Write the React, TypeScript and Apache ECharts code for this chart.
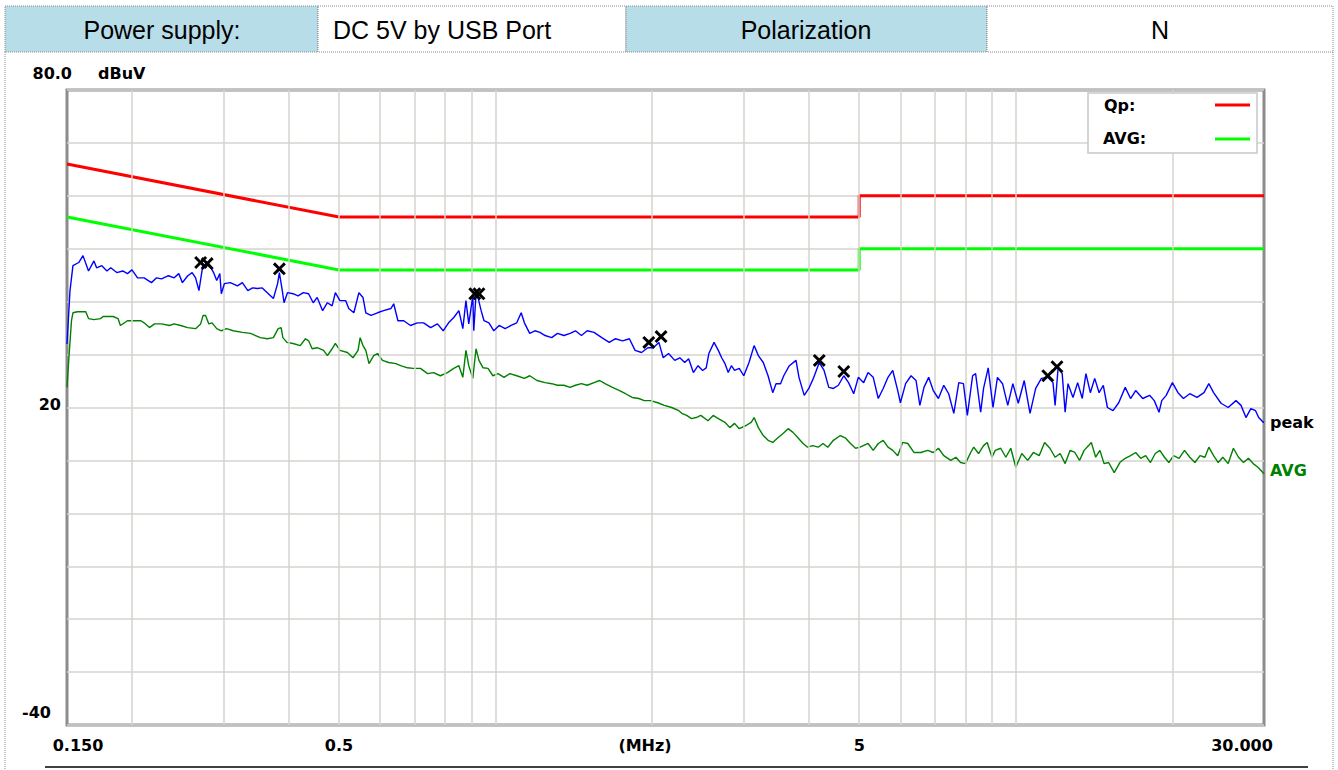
import React, { useEffect, useRef } from "react";
import * as echarts from "echarts";

const headerCells = ["Power supply:", "DC 5V by USB Port", "Polarization", "N"];

const qpLimit: [number, number][] = [[0.15, 66], [0.5, 56], [5, 56], [5, 60], [30, 60]];
const avgLimit: [number, number][] = [[0.15, 56], [0.5, 46], [5, 46], [5, 50], [30, 50]];

const peakTrace: [number, number][] = [
  [0.150, 32.0], [0.152, 42.1], [0.154, 46.8], [0.158, 47.4], [0.161, 48.7], [0.165, 45.8], [0.169, 47.7], [0.171, 46.4],
  [0.175, 46.8], [0.179, 45.8], [0.182, 46.4], [0.187, 45.5], [0.192, 45.8], [0.196, 45.3], [0.200, 46.0], [0.205, 44.5],
  [0.211, 44.5], [0.218, 43.6], [0.223, 44.5], [0.228, 44.3], [0.235, 44.9], [0.241, 44.5], [0.246, 45.3], [0.250, 43.6],
  [0.256, 44.9], [0.261, 45.5], [0.265, 44.5], [0.269, 42.1], [0.274, 47.2], [0.277, 46.4], [0.281, 47.2], [0.287, 45.5],
  [0.291, 44.0], [0.295, 45.3], [0.297, 41.5], [0.301, 43.4], [0.309, 43.6], [0.319, 43.0], [0.326, 43.6], [0.334, 42.1],
  [0.341, 42.6], [0.348, 42.5], [0.356, 42.6], [0.364, 41.7], [0.374, 40.6], [0.381, 43.4], [0.384, 45.5], [0.389, 42.1],
  [0.392, 39.8], [0.398, 41.7], [0.408, 41.5], [0.417, 41.1], [0.427, 41.7], [0.437, 41.5], [0.446, 39.8], [0.454, 40.8],
  [0.465, 38.3], [0.475, 39.8], [0.485, 39.2], [0.492, 41.7], [0.502, 40.2], [0.515, 40.2], [0.522, 38.7], [0.534, 37.9],
  [0.546, 41.7], [0.556, 40.8], [0.563, 37.9], [0.576, 37.4], [0.593, 37.9], [0.609, 38.3], [0.629, 38.7], [0.637, 39.6],
  [0.649, 36.4], [0.666, 36.4], [0.686, 35.5], [0.707, 36.0], [0.727, 36.0], [0.750, 35.1], [0.773, 35.8], [0.793, 34.5],
  [0.812, 36.0], [0.831, 37.0], [0.850, 38.3], [0.865, 34.9], [0.877, 40.2], [0.888, 35.8], [0.904, 41.1], [0.908, 34.5],
  [0.917, 41.5], [0.925, 40.8], [0.938, 38.3], [0.950, 36.4], [0.971, 36.0], [0.992, 34.5], [1.016, 35.5], [1.043, 34.9],
  [1.071, 35.5], [1.098, 36.0], [1.120, 37.9], [1.136, 36.0], [1.163, 34.0], [1.190, 34.5], [1.217, 34.2], [1.245, 33.6],
  [1.282, 33.2], [1.315, 34.0], [1.353, 33.6], [1.391, 34.0], [1.424, 34.5], [1.462, 33.6], [1.500, 34.5], [1.546, 34.2],
  [1.600, 33.2], [1.654, 32.3], [1.700, 33.0], [1.754, 32.6], [1.808, 33.0], [1.854, 30.8], [1.908, 30.4], [1.962, 31.3],
  [2.01, 31.3], [2.06, 32.3], [2.10, 29.4], [2.15, 30.2], [2.21, 28.9], [2.26, 29.4], [2.31, 28.5], [2.35, 29.2],
  [2.40, 26.6], [2.45, 27.9], [2.50, 27.0], [2.54, 27.5], [2.57, 30.2], [2.63, 32.3], [2.68, 30.8], [2.72, 29.4],
  [2.76, 28.3], [2.80, 26.6], [2.84, 27.9], [2.88, 27.0], [2.94, 27.4], [3.00, 26.0], [3.07, 28.5], [3.14, 31.7],
  [3.20, 29.8], [3.27, 28.5], [3.34, 26.0], [3.41, 22.8], [3.46, 24.5], [3.53, 24.5], [3.58, 26.0], [3.67, 27.9],
  [3.78, 28.9], [3.83, 25.7], [3.92, 22.3], [4.00, 23.6], [4.09, 25.7], [4.19, 28.5], [4.28, 27.0], [4.37, 23.8],
  [4.46, 23.6], [4.56, 24.2], [4.67, 26.0], [4.77, 24.7], [4.88, 22.6], [4.98, 25.7], [5.10, 24.7], [5.20, 26.6],
  [5.32, 25.7], [5.44, 21.7], [5.56, 23.6], [5.68, 25.7], [5.80, 27.0], [5.93, 23.2], [6.00, 20.9], [6.14, 24.5],
  [6.29, 26.0], [6.43, 25.1], [6.54, 20.4], [6.66, 23.8], [6.80, 25.7], [6.94, 23.2], [7.10, 21.7], [7.27, 24.2],
  [7.43, 22.6], [7.60, 18.9], [7.77, 24.7], [7.93, 24.5], [8.07, 18.5], [8.26, 26.0], [8.37, 26.4], [8.56, 19.1],
  [8.67, 23.6], [8.85, 27.5], [9.04, 20.0], [9.22, 25.7], [9.43, 24.5], [9.65, 20.4], [9.87, 24.5], [10.11, 20.8],
  [10.38, 25.1], [10.65, 18.9], [10.92, 23.6], [11.20, 25.5], [11.52, 25.7], [11.79, 24.7], [11.90, 20.4], [12.06, 27.5],
  [12.28, 26.4], [12.44, 19.1], [12.60, 24.5], [12.88, 21.9], [13.15, 24.7], [13.42, 21.7], [13.64, 26.4], [13.91, 22.8],
  [14.18, 25.5], [14.46, 22.8], [14.73, 24.2], [15.00, 20.0], [15.38, 19.4], [15.77, 20.9], [16.23, 23.8], [16.62, 21.7],
  [17.00, 23.2], [17.54, 21.7], [18.08, 22.3], [18.46, 21.3], [18.85, 19.1], [19.08, 21.3], [19.46, 22.3], [20.0, 24.7],
  [20.5, 22.8], [21.0, 21.7], [21.6, 22.6], [22.3, 21.9], [23.0, 22.8], [23.5, 24.5], [24.0, 22.8], [24.8, 20.8],
  [25.6, 20.0], [26.5, 21.3], [27.1, 20.4], [27.7, 18.1], [28.3, 19.8], [28.9, 19.4], [29.3, 18.1], [29.9, 17.2], [30.0, 17.2],
];

const avgTrace: [number, number][] = [
  [0.150, 23.8], [0.151, 28.3], [0.153, 36.4], [0.154, 37.9], [0.157, 38.1], [0.163, 38.1], [0.165, 36.8], [0.169, 36.6],
  [0.174, 36.8], [0.176, 37.2], [0.184, 37.2], [0.188, 36.8], [0.190, 35.5], [0.196, 36.4], [0.208, 36.4], [0.211, 36.0],
  [0.216, 35.1], [0.221, 35.8], [0.228, 35.8], [0.236, 35.5], [0.241, 35.8], [0.248, 35.5], [0.256, 35.1], [0.265, 34.9],
  [0.271, 35.8], [0.274, 37.4], [0.277, 37.4], [0.281, 35.8], [0.285, 36.0], [0.291, 34.9], [0.297, 34.5], [0.304, 34.9],
  [0.313, 34.5], [0.326, 34.2], [0.338, 34.0], [0.353, 33.2], [0.364, 33.0], [0.374, 33.2], [0.382, 34.9], [0.387, 35.1],
  [0.390, 33.2], [0.397, 32.3], [0.408, 32.1], [0.421, 31.7], [0.431, 33.0], [0.437, 32.6], [0.444, 31.1], [0.454, 31.3],
  [0.467, 30.8], [0.475, 29.8], [0.485, 31.1], [0.492, 32.1], [0.502, 30.8], [0.519, 30.4], [0.532, 29.4], [0.544, 30.8],
  [0.549, 33.2], [0.556, 31.7], [0.563, 30.8], [0.571, 28.3], [0.583, 29.8], [0.593, 30.2], [0.606, 28.9], [0.623, 28.5],
  [0.643, 28.3], [0.657, 27.9], [0.677, 27.5], [0.694, 27.4], [0.717, 27.4], [0.740, 26.4], [0.760, 26.6], [0.783, 26.0],
  [0.808, 26.6], [0.831, 27.4], [0.850, 27.9], [0.865, 25.7], [0.877, 30.8], [0.888, 27.9], [0.904, 25.5], [0.917, 31.1],
  [0.929, 28.9], [0.946, 27.5], [0.967, 27.4], [0.988, 26.0], [1.011, 26.4], [1.038, 25.7], [1.065, 26.4], [1.098, 26.0],
  [1.136, 25.5], [1.163, 26.0], [1.201, 25.1], [1.245, 24.7], [1.282, 24.5], [1.315, 24.2], [1.353, 24.2], [1.391, 23.8],
  [1.424, 24.2], [1.462, 24.5], [1.500, 24.2], [1.546, 24.7], [1.585, 25.1], [1.623, 24.5], [1.677, 23.8], [1.731, 23.2],
  [1.777, 22.6], [1.831, 21.9], [1.885, 21.7], [1.931, 21.3], [1.985, 21.3], [2.05, 20.9], [2.11, 20.4], [2.18, 20.0],
  [2.25, 19.4], [2.28, 18.9], [2.33, 18.5], [2.38, 17.9], [2.43, 18.1], [2.48, 18.5], [2.56, 17.5], [2.62, 18.5],
  [2.68, 17.9], [2.76, 17.2], [2.82, 16.2], [2.88, 17.0], [2.94, 16.0], [3.03, 16.6], [3.10, 17.2], [3.14, 18.1],
  [3.20, 16.2], [3.27, 14.7], [3.34, 13.8], [3.41, 13.4], [3.48, 14.2], [3.57, 15.1], [3.65, 16.0], [3.73, 15.3],
  [3.82, 14.2], [3.90, 13.2], [3.98, 12.5], [4.07, 12.8], [4.17, 12.5], [4.26, 13.2], [4.35, 12.5], [4.46, 13.8],
  [4.60, 14.7], [4.71, 14.2], [4.81, 13.2], [4.92, 12.3], [5.02, 12.5], [5.20, 13.2], [5.32, 11.9], [5.44, 13.2],
  [5.56, 13.8], [5.68, 12.5], [5.80, 11.9], [5.93, 10.9], [6.06, 13.4], [6.20, 13.2], [6.37, 11.5], [6.57, 11.5],
  [6.77, 11.9], [6.94, 11.5], [7.10, 12.3], [7.27, 10.9], [7.50, 10.0], [7.67, 10.6], [7.83, 9.6], [8.00, 9.4],
  [8.19, 11.5], [8.30, 12.5], [8.48, 11.3], [8.67, 12.8], [8.81, 13.4], [9.00, 10.6], [9.13, 11.9], [9.35, 12.3],
  [9.57, 10.6], [9.78, 12.3], [10.00, 8.7], [10.27, 11.3], [10.54, 10.0], [10.81, 11.5], [11.09, 10.9], [11.36, 13.4],
  [11.63, 12.3], [11.90, 10.6], [12.17, 11.3], [12.44, 9.4], [12.72, 11.9], [12.99, 11.5], [13.26, 10.0], [13.53, 11.9],
  [13.80, 12.8], [13.97, 13.4], [14.24, 10.6], [14.51, 11.9], [14.78, 9.4], [15.08, 9.6], [15.46, 7.7], [15.85, 9.6],
  [16.23, 10.4], [16.62, 10.9], [17.00, 11.5], [17.38, 10.4], [17.77, 10.9], [18.15, 9.6], [18.54, 11.3], [18.92, 11.9],
  [19.31, 10.6], [19.69, 9.6], [20.1, 10.9], [20.6, 10.4], [21.1, 11.9], [21.6, 10.6], [22.1, 9.6], [22.6, 10.9],
  [23.1, 10.6], [23.5, 12.5], [24.0, 10.9], [24.5, 9.6], [25.0, 10.6], [25.6, 9.4], [26.2, 12.3], [26.8, 10.6],
  [27.4, 9.6], [28.0, 10.4], [28.6, 9.4], [29.2, 8.7], [29.6, 8.1], [30.0, 7.5],
];

const peakMarkers: [number, number][] = [
  [0.271, 47.4], [0.279, 47.2], [0.384, 46.2], [0.912, 41.5], [0.929, 41.5],
  [1.97, 32.3], [2.08, 33.4], [4.19, 28.9], [4.67, 26.8], [11.52, 26.0], [12.0, 27.7],
];

const xGridFreqs = [0.2, 0.3, 0.4, 0.5, 0.6, 0.7, 0.8, 0.9, 1, 2, 3, 4, 5, 6, 7, 8, 9, 10, 20];
const xTickLabels: { f: number; text: string }[] = [
  { f: 0.15, text: "0.150" }, { f: 0.5, text: "0.5" }, { f: 5, text: "5" }, { f: 30, text: "30.000" },
];
const yTickLabels: { v: number; text: string; dy: number; right: number }[] = [
  { v: 80, text: "80.0", dy: -17, right: 72 },
  { v: 20, text: "20", dy: -3, right: 61 },
  { v: -40, text: "-40", dy: -13, right: 51 },
];

const AXIS_FONT = 'bold 16px "DejaVu Sans"';
const HEAD_FONT = '25px "Liberation Sans", Arial, sans-serif';
const CELL_BLUE = "#b7dde8";

function txt(text: string, x: number, y: number, font: string, fill: string, align = "left") {
  return {
    type: "text",
    z: 100,
    style: { text, x, y, font, fill, textAlign: align, align, textVerticalAlign: "middle", verticalAlign: "middle" },
  };
}

export default function App() {
  const ref = useRef<HTMLDivElement>(null);

  useEffect(() => {
    document.body.style.margin = "0";
    const el = ref.current!;
    const chart = echarts.init(el, null, { renderer: "svg" });

    const xSym = "path://M0,1.6L1.6,0L5,3.4L8.4,0L10,1.6L6.6,5L10,8.4L8.4,10L5,6.6L1.6,10L0,8.4L3.4,5Z";

    chart.setOption({
      animation: false,
      backgroundColor: "#ffffff",
      grid: {
        left: 67, right: 74, top: 90, bottom: 45,
        show: true, borderColor: "#8c8c8c", borderWidth: 3, backgroundColor: "#ffffff",
      },
      xAxis: {
        type: "log", logBase: 10, min: 0.15, max: 30,
        axisLine: { show: false }, axisTick: { show: false }, axisLabel: { show: false },
        splitLine: { show: false }, minorSplitLine: { show: false },
      },
      yAxis: {
        type: "value", min: -40, max: 80, interval: 10,
        axisLine: { show: false }, axisTick: { show: false }, axisLabel: { show: false },
        splitLine: { show: true, lineStyle: { color: "#d6d3ce", width: 1.5 } },
      },
      series: [
        {
          type: "line", data: [], z: 1,
          markLine: {
            silent: true, symbol: ["none", "none"], label: { show: false },
            lineStyle: { color: "#d6d3ce", width: 1.5, type: "solid" },
            data: xGridFreqs.map((f) => ({ xAxis: f })),
          },
        },
        { type: "line", data: qpLimit, showSymbol: false, z: 3, lineStyle: { color: "#ff0000", width: 3 }, itemStyle: { color: "#ff0000" } },
        { type: "line", data: avgLimit, showSymbol: false, z: 3, lineStyle: { color: "#00ff00", width: 3 }, itemStyle: { color: "#00ff00" } },
        { type: "line", data: avgTrace, showSymbol: false, z: 4, lineStyle: { color: "#008000", width: 1.4 }, itemStyle: { color: "#008000" } },
        { type: "line", data: peakTrace, showSymbol: false, z: 5, lineStyle: { color: "#0000ff", width: 1.4 }, itemStyle: { color: "#0000ff" } },
        { type: "scatter", data: peakMarkers, symbol: xSym, symbolSize: 13, z: 6, itemStyle: { color: "#000000", opacity: 1 } },
      ],
    });

    const px = (f: number) => chart.convertToPixel({ xAxisIndex: 0 } as any, f) as number;
    const py = (v: number) => chart.convertToPixel({ yAxisIndex: 0 } as any, v) as number;

    const graphic: any[] = [];
    const cellX = [5, 318, 626, 987, 1333];
    headerCells.forEach((t, i) => {
      graphic.push({
        type: "rect", z: 90,
        shape: { x: cellX[i], y: 6, width: cellX[i + 1] - cellX[i], height: 46 },
        style: { fill: i % 2 === 0 ? CELL_BLUE : "#ffffff", stroke: "#8a8a8a", lineWidth: 1, lineDash: [1, 1] },
      });
    });
    graphic.push(txt(headerCells[0], 162, 30, HEAD_FONT, "#000", "center"));
    graphic.push(txt(headerCells[1], 333, 30, HEAD_FONT, "#000", "left"));
    graphic.push(txt(headerCells[2], 806, 30, HEAD_FONT, "#000", "center"));
    graphic.push(txt(headerCells[3], 1160, 30, HEAD_FONT, "#000", "center"));
    graphic.push({ type: "line", z: 90, shape: { x1: 5, y1: 52, x2: 5, y2: 770 }, style: { stroke: "#8a8a8a", lineWidth: 1, lineDash: [1, 1] } });
    graphic.push({ type: "line", z: 90, shape: { x1: 1333, y1: 52, x2: 1333, y2: 770 }, style: { stroke: "#8a8a8a", lineWidth: 1, lineDash: [1, 1] } });
    graphic.push({ type: "line", z: 90, shape: { x1: 45, y1: 767, x2: 1308, y2: 767 }, style: { stroke: "#404040", lineWidth: 2 } });

    yTickLabels.forEach((l) => graphic.push(txt(l.text, l.right, py(l.v) + l.dy, AXIS_FONT, "#000", "right")));
    graphic.push(txt("dBuV", 98, py(80) - 17, AXIS_FONT, "#000", "left"));
    const labelY = py(-40) + 20;
    xTickLabels.forEach((l, i) => {
      const x = px(l.f);
      const dx = i === 0 ? 11 : i === xTickLabels.length - 1 ? -22 : 0;
      graphic.push(txt(l.text, x + dx, labelY, AXIS_FONT, "#000", "center"));
    });
    graphic.push(txt("(MHz)", 645, labelY, AXIS_FONT, "#000", "center"));

    const xEnd = px(30);
    graphic.push(txt("peak", xEnd + 6, py(peakTrace[peakTrace.length - 1][1]), AXIS_FONT, "#000", "left"));
    graphic.push(txt("AVG", xEnd + 6, py(avgTrace[avgTrace.length - 1][1]) - 3, AXIS_FONT, "#008000", "left"));

    graphic.push({
      type: "rect", z: 95,
      shape: { x: 1088, y: 93, width: 169, height: 60 },
      style: { fill: "#ffffff", stroke: "#c8c8c8", lineWidth: 1.5 },
    });
    graphic.push(txt("Qp:", 1104, 105, AXIS_FONT, "#000", "left"));
    graphic.push(txt("AVG:", 1103, 138, AXIS_FONT, "#000", "left"));
    graphic.push({ type: "line", z: 96, shape: { x1: 1215, y1: 105, x2: 1250, y2: 105 }, style: { stroke: "#ff0000", lineWidth: 3 } });
    graphic.push({ type: "line", z: 96, shape: { x1: 1215, y1: 139, x2: 1250, y2: 139 }, style: { stroke: "#00ff00", lineWidth: 3 } });

    chart.setOption({ graphic });

    return () => chart.dispose();
  }, []);

  return <div ref={ref} style={{ width: 1338, height: 770 }} />;
}
